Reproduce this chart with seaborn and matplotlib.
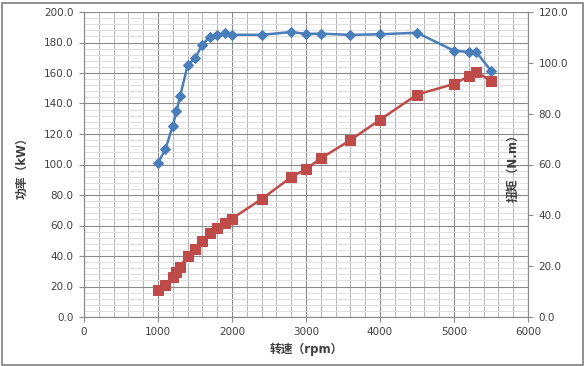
import seaborn as sns
import matplotlib.pyplot as plt
from matplotlib.ticker import MultipleLocator, FormatStrFormatter
from matplotlib.patches import Rectangle

# engine speed (rpm)
rpm = [1000, 1100, 1200, 1250, 1300, 1400, 1500, 1600, 1700, 1800, 1900, 2000,
       2400, 2800, 3000, 3200, 3600, 4000, 4500, 5000, 5200, 5300, 5500]
# blue series, read on the left axis
blue_vals = [101.0, 110.0, 125.4, 134.9, 145.0, 165.0, 169.6, 178.6, 183.8, 185.0, 186.0, 185.1,
             185.0, 186.9, 185.6, 185.8, 185.0, 185.4, 186.4, 174.6, 173.8, 173.8, 161.5]
# red series, read on the right axis
red_vals = [10.5, 12.6, 15.6, 17.8, 19.8, 24.1, 26.8, 29.8, 32.9, 35.0, 36.8, 38.7,
            46.4, 55.0, 58.2, 62.4, 69.6, 77.6, 87.5, 91.7, 94.7, 96.4, 92.9]

left_label = "功率（kW）"
right_label = "扭矩（N.m）"
x_label = "转速（rpm）"

sns.set_theme(style="white")
plt.rcParams['font.family'] = ['DejaVu Sans', 'Noto Sans CJK SC']

blue = "#4A7EBB"
red = "#BE4B48"
tick_col = "#404040"
spine_col = "#8c8c8c"

fig = plt.figure(figsize=(5.85, 3.66), dpi=100)
ax = fig.add_axes([84 / 585, 1 - 317 / 366, 444 / 585, 305 / 366])
ax2 = ax.twinx()

sns.lineplot(x=rpm, y=blue_vals, ax=ax, color=blue, marker="D", markersize=5.5,
             markeredgecolor=blue, linewidth=1.8, zorder=3)
sns.lineplot(x=rpm, y=red_vals, ax=ax2, color=red, marker="s", markersize=7.5,
             markeredgecolor=red, linewidth=1.8, zorder=3)

ax.set_xlim(0, 6000)
ax.set_ylim(0, 200)
ax2.set_ylim(0, 120)

ax.xaxis.set_major_locator(MultipleLocator(1000))
ax.xaxis.set_minor_locator(MultipleLocator(200))
ax.yaxis.set_major_locator(MultipleLocator(20))
ax.yaxis.set_minor_locator(MultipleLocator(4))
ax.yaxis.set_major_formatter(FormatStrFormatter("%.1f"))
ax2.yaxis.set_major_locator(MultipleLocator(20))
ax2.yaxis.set_major_formatter(FormatStrFormatter("%.1f"))

# grid: vertical lines all mid grey, horizontal minors pale
ax.xaxis.grid(True, which="major", color="#8a8a8a", linewidth=0.8)
ax.xaxis.grid(True, which="minor", color="#b4b4b4", linewidth=0.7)
ax.yaxis.grid(True, which="major", color="#8a8a8a", linewidth=0.8)
ax.yaxis.grid(True, which="minor", color="#dedede", linewidth=0.7)
ax.set_axisbelow(True)

for a in (ax, ax2):
    a.spines["top"].set_visible(False)
    for side in ("left", "right", "bottom"):
        a.spines[side].set_color(spine_col)
        a.spines[side].set_linewidth(0.8)
    a.tick_params(which="major", length=3.5, width=0.8, color=spine_col,
                  labelsize=7.5, labelcolor=tick_col)
ax.tick_params(axis="both", which="minor", length=0)
ax.tick_params(axis="y", left=True, pad=4)
ax.tick_params(axis="x", bottom=True, pad=4)
ax2.tick_params(axis="y", right=True, pad=4)

ax.set_xlabel(x_label, fontsize=8.5, fontweight="bold", color=tick_col, labelpad=4)
ax.set_ylabel("")
fig.text(22 / 585, 1 - 165 / 366, left_label, rotation=90, fontsize=8.5,
         fontweight="bold", color=tick_col, ha="center", va="center")
fig.text(513 / 585, 1 - 165 / 366, right_label, rotation=90, fontsize=8.5,
         fontweight="bold", color=tick_col, ha="center", va="center")

# outer chart border
fig.patches.append(Rectangle((1.5 / 585, 1.5 / 366), 581 / 585, 362 / 366,
                             transform=fig.transFigure, fill=False,
                             edgecolor="#7f7f7f", linewidth=1.2))

fig.savefig("out.png", dpi=100)
